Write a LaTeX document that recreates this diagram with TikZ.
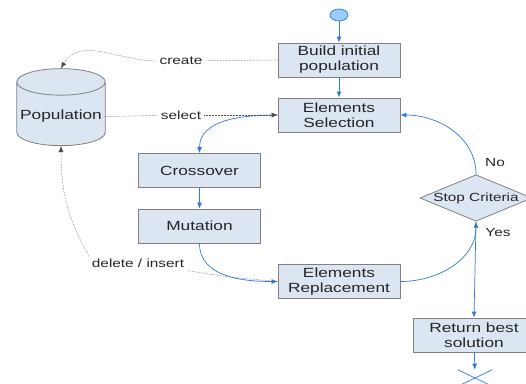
\documentclass[tikz,border=0pt]{standalone}
\usepackage{fontspec}
\setmainfont[FakeStretch=1.3]{Liberation Sans}
\usetikzlibrary{shapes.geometric,shapes.misc,arrows.meta}
\definecolor{boxfill}{RGB}{220,230,242}
\definecolor{boxline}{RGB}{128,128,128}
\definecolor{flowblue}{RGB}{50,120,215}
\definecolor{startfill}{RGB}{153,204,255}
\begin{document}
\begin{tikzpicture}[x=1pt,y=1pt]
\tikzstyle{every node}=[text centered, align=center, text=black!85]
\tikzstyle{block} = [draw=boxline, fill=boxfill, line width=0.8pt, minimum width=122pt, minimum height=34pt, font=\fontsize{13.3}{15}\selectfont];
\tikzstyle{lbl} = [font=\fontsize{11.8}{14}\selectfont, inner sep=3pt];
\tikzstyle{flow} = [draw=flowblue, line width=0.7pt, -{Latex[length=6pt,width=5pt]}];
\tikzstyle{dotline} = [densely dotted, black!70, line width=0.5pt];
\tikzstyle{dotarrow} = [dotline, -{Latex[length=6pt,width=5pt]}];
\useasboundingbox (0,0) rectangle (526,383);
\node[ellipse, draw=flowblue, fill=startfill, line width=0.7pt, minimum width=18pt, minimum height=12pt, inner sep=0pt] (start) at (339,368) {};
\node[block] (build) at (339,323) {Build initial\\population};
\node[block] (select) at (339,268) {Elements\\Selection};
\node[block] (cross) at (199.5,212.5) {Crossover};
\node[block] (mut) at (199.5,157) {Mutation};
\node[block] (repl) at (339,101.5) {Elements\\Replacement};
\node[lbl, diamond, draw=boxline, fill=boxfill, line width=0.8pt, aspect=2.4, inner sep=0pt, minimum width=112pt, minimum height=46pt] (stop) at (476,185) {Stop Criteria};
\node[block] (ret) at (474,48) {Return best\\solution};
\node[cross out, draw=flowblue, line width=0.7pt, minimum width=34pt, minimum height=16pt] (end) at (475,5) {};
\node[cylinder, shape border rotate=90, draw=boxline, fill=boxfill, line width=0.8pt, aspect=0.3, minimum width=88pt, minimum height=77pt, font=\fontsize{13.3}{15}\selectfont] (pop) at (61,266.5) {Population};
\node[lbl] (create) at (181,322) {create};
\node[lbl] (sel) at (181,268) {select};
\node[lbl] (del) at (138,120) {delete / insert};
\node[lbl] (no) at (495,221) {No};
\node[lbl] (yes) at (498,151) {Yes};
\draw[flow] (start) -- (build);
\draw[flow] (build) -- (select);
\draw[flow] (select.west) to[out=180,in=90] (cross.north);
\draw[flow] (cross) -- (mut);
\draw[flow] (mut.south) to[out=-90,in=180] (repl.west);
\draw[flow] (repl.east) to[out=0,in=-90] (stop.south);
\draw[flow] (stop.north) to[out=90,in=0] (select.east);
\draw[flow] (stop.south) -- (ret.north);
\draw[flow] (ret) -- (end);
\draw[dotline] (build.west) -- (create);
\draw[dotarrow] (create) to[out=180,in=60] (pop.north);
\draw[dotline] (pop.east) -- (sel);
\draw[dotarrow] (sel) -- (select.west);
\draw[dotline] (repl.west) to[out=175,in=-10] (del.south east);
\draw[dotarrow] (del.north west) to[out=120,in=-90] (pop.south);
\end{tikzpicture}
\end{document}
